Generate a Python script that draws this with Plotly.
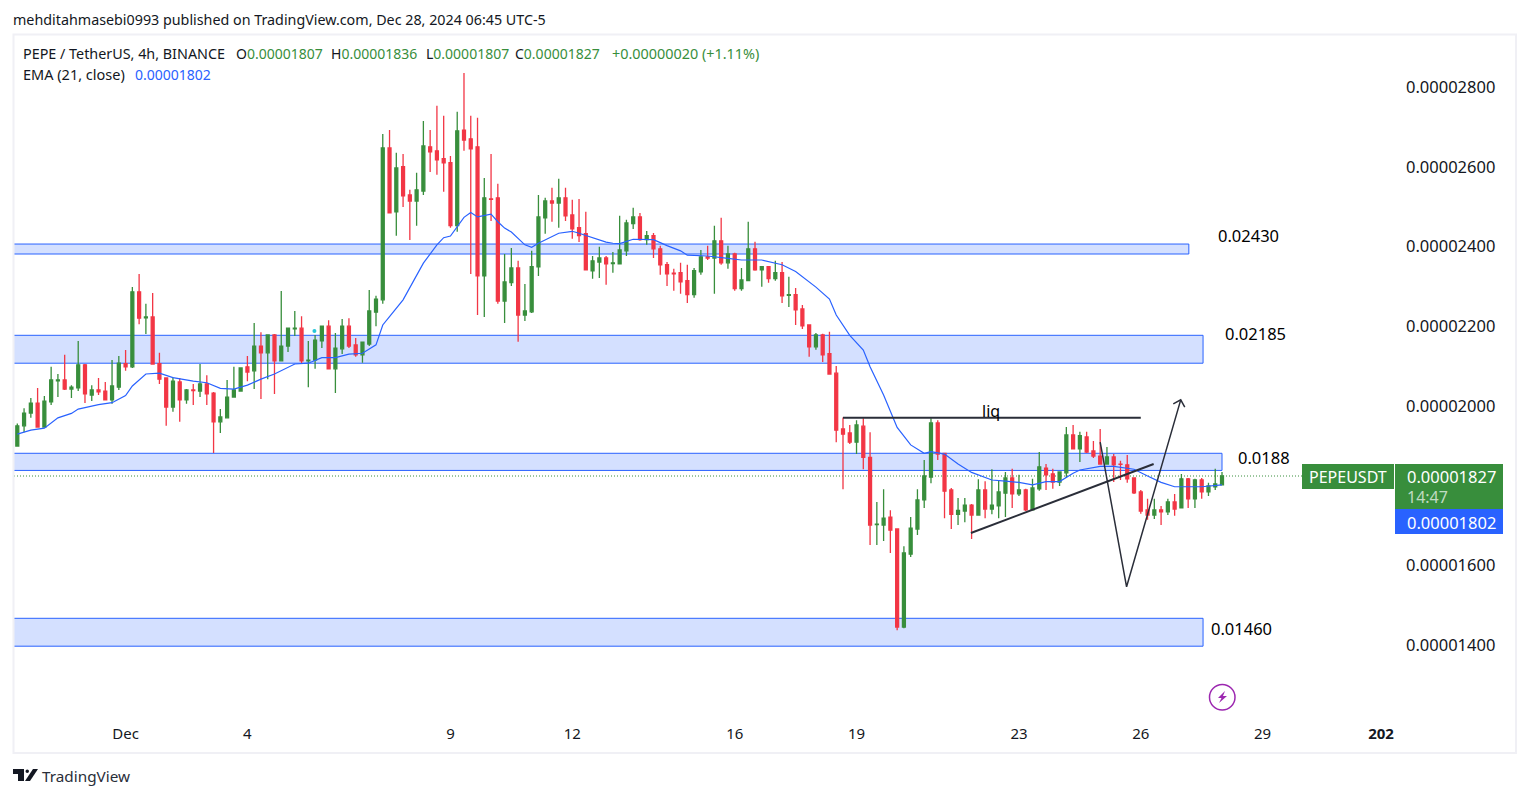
"""
PEPE / TetherUS 4h candlestick chart with EMA, zones and hand drawn trend lines.
"""

import pandas as pd
import plotly.graph_objects as go

# prices are kept in units of 0.00000001
UNIT = 1e-8

opens = [
    1899, 1950, 1982, 2007, 1947, 2010, 2063, 2065, 2042, 2045,
    2103, 2027, 2040, 2037, 2015, 2047, 2106, 2098, 2286, 2221,
    2223, 2106, 2070, 1997, 2060, 2015, 2040, 2037, 2055, 2032,
    1960, 1970, 2022, 2037, 2098, 2088, 2150, 2133, 2178, 2113,
    2150, 2193, 2195, 2113, 2115, 2163, 2200, 2093, 2143, 2200,
    2153, 2128, 2155, 2235, 2266, 2647, 2487, 2600, 2529, 2514,
    2539, 2650, 2640, 2620, 2610, 2452, 2692, 2670, 2650, 2326,
    2519, 2522, 2263, 2309, 2346, 2228, 2236, 2349, 2472, 2514,
    2509, 2522, 2479, 2447, 2432, 2339, 2361, 2371, 2357, 2356,
    2389, 2457, 2474, 2417, 2427, 2394, 2354, 2333, 2334, 2314,
    2279, 2336, 2374, 2371, 2414, 2359, 2381, 2294, 2314, 2394,
    2341, 2349, 2319, 2334, 2277, 2279, 2243, 2203, 2148, 2178,
    2131, 2082, 1942, 1932, 1909, 1949, 1871, 1702, 1701, 1721,
    1691, 1445, 1628, 1691, 1764, 1821, 1957, 1881, 1789, 1728,
    1736, 1751, 1726, 1789, 1741, 1749, 1781, 1819, 1779, 1789,
    1739, 1792, 1844, 1829, 1809, 1832, 1927, 1892, 1922, 1887,
    1874, 1854, 1872, 1854, 1852, 1819, 1784, 1739, 1726, 1739,
    1734, 1759, 1744, 1817, 1767, 1814, 1784, 1797, 1802,
]
highs = [
    1956, 1994, 2020, 2045, 2025, 2098, 2080, 2128, 2052, 2163,
    2105, 2052, 2070, 2060, 2115, 2125, 2140, 2298, 2331, 2256,
    2283, 2133, 2072, 2072, 2070, 2042, 2055, 2105, 2077, 2035,
    1992, 2065, 2098, 2095, 2125, 2208, 2185, 2178, 2180, 2288,
    2195, 2238, 2225, 2163, 2178, 2200, 2215, 2183, 2218, 2220,
    2170, 2160, 2291, 2276, 2682, 2692, 2635, 2632, 2542, 2585,
    2715, 2692, 2753, 2728, 2627, 2738, 2835, 2728, 2723, 2572,
    2632, 2557, 2381, 2396, 2364, 2306, 2389, 2529, 2522, 2547,
    2570, 2547, 2517, 2519, 2487, 2376, 2399, 2376, 2386, 2477,
    2467, 2497, 2484, 2439, 2434, 2402, 2361, 2344, 2359, 2354,
    2346, 2391, 2402, 2452, 2472, 2402, 2384, 2346, 2462, 2412,
    2351, 2349, 2364, 2361, 2324, 2296, 2253, 2203, 2183, 2181,
    2186, 2100, 1971, 1952, 1964, 1969, 1934, 1759, 1791, 1738,
    1691, 1648, 1721, 1791, 1864, 1969, 1964, 1881, 1794, 1769,
    1769, 1754, 1816, 1811, 1841, 1814, 1834, 1842, 1827, 1792,
    1817, 1884, 1854, 1842, 1834, 1947, 1952, 1935, 1935, 1912,
    1942, 1897, 1879, 1862, 1877, 1819, 1789, 1767, 1767, 1749,
    1767, 1779, 1829, 1819, 1817, 1819, 1807, 1842, 1834,
]
lows = [
    1899, 1934, 1970, 1947, 1947, 2002, 2022, 2040, 2020, 2037,
    2007, 2012, 2027, 2015, 2005, 2040, 2088, 2095, 2205, 2180,
    2103, 2055, 1950, 1985, 1960, 2005, 2002, 2022, 2002, 1882,
    1932, 1970, 2022, 2037, 2062, 2042, 2017, 2067, 2030, 2113,
    2135, 2175, 2105, 2047, 2093, 2145, 2093, 2032, 2130, 2145,
    2123, 2108, 2150, 2200, 2256, 2484, 2427, 2499, 2416, 2452,
    2529, 2587, 2580, 2537, 2447, 2437, 2640, 2331, 2228, 2223,
    2464, 2256, 2208, 2301, 2161, 2213, 2233, 2326, 2432, 2462,
    2447, 2464, 2419, 2411, 2341, 2319, 2321, 2304, 2334, 2356,
    2376, 2444, 2414, 2404, 2371, 2329, 2301, 2289, 2281, 2258,
    2271, 2329, 2366, 2281, 2354, 2344, 2289, 2289, 2314, 2339,
    2299, 2309, 2314, 2258, 2248, 2203, 2193, 2123, 2141, 2110,
    2080, 1909, 1791, 1904, 1879, 1841, 1651, 1651, 1661, 1631,
    1437, 1442, 1621, 1676, 1744, 1806, 1864, 1718, 1691, 1701,
    1708, 1666, 1726, 1718, 1728, 1718, 1721, 1744, 1774, 1736,
    1739, 1787, 1789, 1792, 1799, 1819, 1892, 1859, 1882, 1869,
    1852, 1854, 1809, 1814, 1807, 1779, 1729, 1714, 1716, 1701,
    1726, 1724, 1744, 1744, 1744, 1767, 1774, 1789, 1802,
]
closes = [
    1950, 1982, 2007, 1947, 2012, 2065, 2065, 2042, 2047, 2103,
    2030, 2040, 2035, 2015, 2050, 2107, 2098, 2286, 2220, 2223,
    2105, 2067, 1997, 2062, 2015, 2040, 2038, 2055, 2030, 1960,
    1972, 2022, 2040, 2095, 2085, 2150, 2133, 2178, 2113, 2150,
    2195, 2195, 2113, 2115, 2165, 2200, 2093, 2145, 2200, 2150,
    2128, 2160, 2238, 2268, 2647, 2484, 2597, 2527, 2514, 2542,
    2652, 2637, 2617, 2610, 2452, 2690, 2667, 2645, 2326, 2522,
    2518, 2263, 2311, 2346, 2228, 2238, 2349, 2474, 2514, 2509,
    2522, 2477, 2444, 2427, 2341, 2364, 2371, 2356, 2359, 2391,
    2459, 2474, 2417, 2427, 2394, 2354, 2331, 2331, 2311, 2279,
    2339, 2374, 2371, 2414, 2359, 2381, 2294, 2316, 2394, 2341,
    2349, 2319, 2334, 2276, 2279, 2241, 2201, 2148, 2178, 2128,
    2080, 1939, 1929, 1909, 1952, 1871, 1701, 1703, 1718, 1688,
    1445, 1631, 1693, 1764, 1824, 1957, 1879, 1786, 1728, 1738,
    1751, 1726, 1789, 1741, 1751, 1784, 1819, 1779, 1789, 1739,
    1794, 1847, 1827, 1809, 1834, 1927, 1892, 1925, 1884, 1874,
    1854, 1872, 1852, 1853, 1817, 1782, 1736, 1726, 1739, 1734,
    1759, 1741, 1817, 1767, 1814, 1784, 1799, 1804, 1824,
]

# EMA at these bars
ema_bars = [
    0, 2, 4, 6, 8, 9, 12, 14, 16, 17, 19, 21, 23, 26, 28, 30, 32, 34, 36, 38,
    41, 43, 45, 47, 49, 51, 53, 54, 55, 57, 60, 62, 63, 64, 66, 67, 68, 70, 71, 72,
    73, 75, 76, 77, 80, 82, 83, 85, 87, 88, 89, 91, 94, 96, 98, 99, 102, 105, 107, 110,
    113, 115, 118, 120, 121, 123, 124, 125, 126, 128, 130, 132, 134, 135, 137, 139,
    141, 144, 146, 148, 150, 152, 154, 156, 157, 160, 162, 165, 167, 169, 171, 175, 178,
]
ema_values = [
    1929, 1939, 1944, 1970, 1981, 1992, 2003, 2008, 2026, 2050, 2080, 2082, 2071, 2062, 2058, 2044, 2042, 2052, 2067, 2080,
    2105, 2107, 2121, 2121, 2130, 2132, 2153, 2203, 2224, 2266, 2358, 2404, 2422, 2426, 2473, 2485, 2474, 2481, 2462, 2446,
    2436, 2404, 2398, 2408, 2433, 2438, 2433, 2421, 2411, 2408, 2407, 2418, 2417, 2402, 2389, 2378, 2376, 2370, 2366, 2366,
    2354, 2337, 2298, 2268, 2228, 2177, 2158, 2140, 2098, 2027, 1946, 1902, 1881, 1885, 1879, 1854,
    1833, 1814, 1811, 1808, 1802, 1810, 1810, 1831, 1839, 1848, 1848, 1841, 1824, 1808, 1797, 1797, 1802,
]

# zones: bottom price, top price, last bar
zone_bottoms = [2381, 2107, 1838, 1397]
zone_tops = [2406, 2177, 1881, 1467]
zone_ends = [173.1, 175.2, 178.0, 175.2]
zone_texts = ["0.02430", "0.02185", "0.0188", "0.01460"]

# hand drawn lines: bar position and price
liq_bars, liq_prices = [122, 166], [1970, 1970]
trend_bars, trend_prices = [140.9, 167.9], [1681, 1854]
wedge_bars, wedge_prices = [160, 163.9, 171.9], [1909, 1546, 2015]
arrow_bars, arrow_prices = [170.8, 171.9, 172.5], [2005, 2015, 1997]

# 1800 is hidden behind the last price label
price_ticks = [1400, 1600, 2000, 2200, 2400, 2600, 2800]
date_ticks = ["2024-12-01", "2024-12-04", "2024-12-09", "2024-12-12", "2024-12-16",
              "2024-12-19", "2024-12-23", "2024-12-26", "2024-12-29", "2024-12-31 22:00"]
date_labels = ["Dec", "4", "9", "12", "16", "19", "23", "26", "29", "<b>202</b>"]

GREEN = "#388e3c"
RED = "#f23645"
BLUE = "#2962ff"
INK = "#131722"
LINE_INK = "#2a2e39"
FONT = "Noto Sans"

# page body has an 8px margin, the figure sits inside it
W, H, PAD = 1513, 780, 8
BAR_X0, BAR_DX = 17.3, 6.768


def fx(px):
    return (px - PAD) / W


def fy(py):
    return 1 - (py - PAD) / H


start = pd.Timestamp("2024-11-28 08:00")


def bar_date(i):
    return start + pd.Timedelta(hours=4 * i)


def px_date(px):
    return bar_date((px - BAR_X0) / BAR_DX)


def px_price(py):
    return (1400 + (645 - py) * 2.509) * UNIT


def scaled(values):
    return [v * UNIT for v in values]


dates = [bar_date(i) for i in range(len(opens))]

fig = go.Figure()

fig.add_trace(go.Candlestick(
    x=dates, open=scaled(opens), high=scaled(highs), low=scaled(lows), close=scaled(closes),
    increasing=dict(line=dict(color=GREEN, width=1.3), fillcolor=GREEN),
    decreasing=dict(line=dict(color=RED, width=1.3), fillcolor=RED),
    whiskerwidth=0, hoverinfo="skip", showlegend=False,
))

fig.add_trace(go.Scatter(
    x=[dates[i] for i in ema_bars], y=scaled(ema_values), mode="lines",
    line=dict(color=BLUE, width=1.2), hoverinfo="skip", showlegend=False,
))

# small marker left on the chart
fig.add_trace(go.Scatter(
    x=[bar_date(43.9)], y=scaled([2188]), mode="markers",
    marker=dict(color="#26c6da", size=4), hoverinfo="skip", showlegend=False,
))


def add_drawing(bars, prices, width):
    fig.add_trace(go.Scatter(
        x=[bar_date(b) for b in bars], y=scaled(prices), mode="lines",
        line=dict(color=LINE_INK, width=width), hoverinfo="skip", showlegend=False,
    ))


add_drawing(liq_bars, liq_prices, 2)
add_drawing(trend_bars, trend_prices, 2)
add_drawing(wedge_bars, wedge_prices, 1.5)
add_drawing(arrow_bars, arrow_prices, 1.5)

axis_start = px_date(14)
shapes = []

for bottom, top, end in zip(zone_bottoms, zone_tops, zone_ends):
    shapes.append(dict(
        type="rect", xref="x", yref="y", layer="below",
        x0=px_date(4), x1=bar_date(end), y0=bottom * UNIT, y1=top * UNIT,
        fillcolor="#d4e0ff", line=dict(color=BLUE, width=1),
    ))

# last price line
shapes.append(dict(
    type="line", xref="x", yref="y", layer="below",
    x0=axis_start, x1=px_date(1302), y0=closes[-1] * UNIT, y1=closes[-1] * UNIT,
    line=dict(color=GREEN, width=1, dash="1px,2px"),
))


def paper_rect(x0, x1, y0, y1, fill, line=None):
    return dict(type="rect", xref="paper", yref="paper", x0=fx(x0), x1=fx(x1), y0=fy(y0), y1=fy(y1),
                fillcolor=fill, line=line or dict(width=0), layer="above")


def paper_path(points, fill=None, color=None, width=0):
    path = "M " + " L ".join(f"{fx(x):.5f},{fy(y):.5f}" for x, y in points) + " Z"
    return dict(type="path", xref="paper", yref="paper", path=path,
                fillcolor=fill, line=dict(color=color, width=width))


# chart frame
shapes.append(paper_rect(13.5, 1516, 34.5, 753, "rgba(0,0,0,0)", dict(color="#f0f0f5", width=2)))

# price labels on the right
shapes.append(paper_rect(1302, 1394, 464, 489, GREEN))
shapes.append(paper_rect(1395, 1503, 464, 509, GREEN))
shapes.append(paper_rect(1395, 1503, 509, 534, BLUE))

# TradingView logo
shapes.append(paper_path([(13, 769), (24, 769), (24, 781), (18, 781), (18, 774), (13, 774)], fill=INK))
shapes.append(dict(type="circle", xref="paper", yref="paper", x0=fx(25.5), x1=fx(29), y0=fy(773), y1=fy(769.5),
                   fillcolor=INK, line=dict(width=0)))
shapes.append(paper_path([(33, 769), (38, 769), (30, 781), (25, 781)], fill=INK))

# lightning badge
shapes.append(dict(type="circle", xref="paper", yref="paper", x0=fx(1209.5), x1=fx(1235), y0=fy(710), y1=fy(684.5),
                   fillcolor="rgba(0,0,0,0)", line=dict(color="#9c27b0", width=1.5)))
shapes.append(paper_path([(1225, 691), (1218, 698), (1221.5, 698), (1219, 703), (1227, 696), (1223, 696)], fill="#9c27b0"))


def text(px, py, s, size=14, color=INK, anchor="left"):
    # annotations carry 2px of padding round the text
    shift = 2 if anchor == "left" else 0
    return dict(xref="paper", yref="paper", x=fx(px - shift), y=fy(py), text=s, showarrow=False,
                xanchor=anchor, yanchor="middle", align=anchor,
                font=dict(family=FONT, size=size, color=color))


def green(s):
    return f'<span style="color:{GREEN}">{s}</span>'


annotations = [
    text(13, 19.5, "mehditahmasebi0993 published on TradingView.com, Dec 28, 2024 06:45 UTC-5", size=14.3),
    text(23, 53, "PEPE / TetherUS, 4h, BINANCE", size=14.35),
    text(236, 53, "O" + green("0.00001807")),
    text(331, 53, "H" + green("0.00001836")),
    text(426, 53, "L" + green("0.00001807")),
    text(515, 53, "C" + green("0.00001827")),
    text(612, 53, green("+0.00000020 (+1.11%)"), size=14.4),
    text(23, 74, "EMA (21, close)", size=14.5),
    text(135, 74, "0.00001802", color=BLUE),
    text(991, 411, "liq", size=16, color="black", anchor="center"),
    text(1218, 235, zone_texts[0], size=16.5, color="black"),
    text(1225, 333, zone_texts[1], size=16.5, color="black"),
    text(1238, 458, zone_texts[2], size=16.5, color="black"),
    text(1211, 628, zone_texts[3], size=16.5, color="black"),
    text(1348, 477, "PEPEUSDT", size=16, color="white", anchor="center"),
    text(1407, 476, "0.00001827", size=16.5, color="white"),
    text(1407, 497, "14:47", size=16, color="rgba(255,255,255,0.7)"),
    text(1407, 522, "0.00001802", size=16.5, color="white"),
    text(42, 776, "TradingView", size=15.3, color=LINE_INK),
]

fig.update_layout(
    width=W, height=H, margin=dict(l=0, r=0, t=0, b=0),
    paper_bgcolor="white", plot_bgcolor="white", showlegend=False,
    boxgap=0.38, dragmode=False,
    shapes=shapes, annotations=annotations,
    xaxis=dict(
        domain=[fx(14), fx(1400)], range=[axis_start, px_date(1400)],
        rangeslider=dict(visible=False), showgrid=False, zeroline=False, showline=False,
        tickmode="array", tickvals=date_ticks, ticktext=date_labels, ticks="",
        tickfont=dict(family=FONT, size=15, color=INK), ticklabelstandoff=1,
    ),
    yaxis=dict(
        domain=[fy(722), fy(36)], range=[px_price(722), px_price(36)], side="right",
        showgrid=False, zeroline=False, showline=False, ticks="",
        tickmode="array", tickvals=scaled(price_ticks), tickformat=".8f",
        tickfont=dict(family=FONT, size=16.5, color=INK), ticklabelstandoff=5,
    ),
)

fig.write_html("out.html")
